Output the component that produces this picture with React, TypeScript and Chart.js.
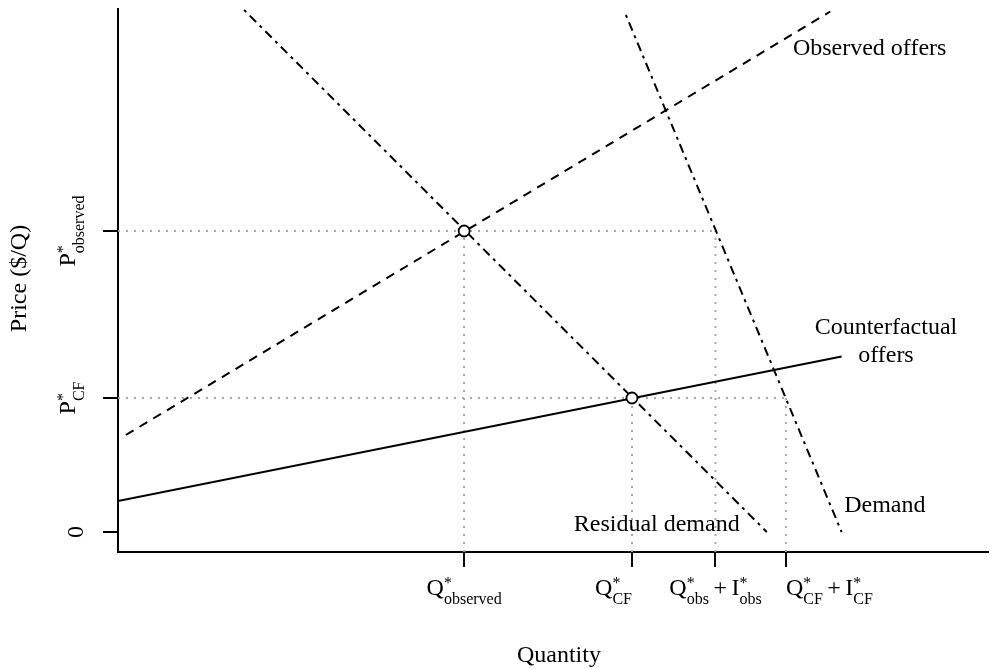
import React, { useEffect, useRef } from 'react';
import { Chart, registerables } from 'chart.js';

Chart.register(...registerables);

// ---------------- data ----------------
const xTickValues = [39.8, 59.1, 68.7, 76.8];
const yTickValues = [0, 26.8, 60.2];

const observedOffersX = [0.9, 81.9];
const observedOffersY = [19.4, 104.1];
const counterfactualOffersX = [0, 83.2];
const counterfactualOffersY = [6.2, 35.1];
const residualDemandX = [14.5, 74.6];
const residualDemandY = [104.4, 0];
const demandX = [58.4, 83.2];
const demandY = [103.4, 0];
const equilibriumX = [39.8, 59.1];
const equilibriumY = [60.2, 26.8];

type Atom = { base?: string; sup?: string; sub?: string; op?: string };

const xTickLabels: Atom[][] = [
  [{ base: 'Q', sup: '*', sub: 'observed' }],
  [{ base: 'Q', sup: '*', sub: 'CF' }],
  [{ base: 'Q', sup: '*', sub: 'obs' }, { op: '+' }, { base: 'I', sup: '*', sub: 'obs' }],
  [{ base: 'Q', sup: '*', sub: 'CF' }, { op: '+' }, { base: 'I', sup: '*', sub: 'CF' }],
];
const yTickLabels: Atom[][] = [
  [{ base: '0' }],
  [{ base: 'P', sup: '*', sub: 'CF' }],
  [{ base: 'P', sup: '*', sub: 'observed' }],
];
const xTitle = 'Quantity';
const yTitle = 'Price ($/Q)';
const observedLabel = 'Observed offers';
const counterfactualLabel = ['Counterfactual', 'offers'];
const residualLabel = 'Residual demand';
const demandLabel = 'Demand';

// ---------------- styling ----------------
const FAMILY = "'Liberation Serif', 'Times New Roman', serif";
const BASE_FONT = `24px ${FAMILY}`;
const SCRIPT_FONT = `16px ${FAMILY}`;
const SUP_RAISE = 7;
const SUB_DROP = 8.5;
const OP_PAD = 4.5;
// horizontal anchoring of each x tick label relative to its tick (0 = left, 0.5 = centre, 1 = right)
const X_LABEL_ANCHOR = [0.5, 1, 0.5, 0];

function atomWidth(ctx: CanvasRenderingContext2D, a: Atom): number {
  if (a.op) {
    ctx.font = BASE_FONT;
    return ctx.measureText(a.op).width + 2 * OP_PAD;
  }
  ctx.font = BASE_FONT;
  const w = ctx.measureText(a.base || '').width;
  ctx.font = SCRIPT_FONT;
  const ws = a.sup ? ctx.measureText(a.sup).width : 0;
  const wb = a.sub ? ctx.measureText(a.sub).width : 0;
  return w + Math.max(ws, wb);
}

function drawMath(ctx: CanvasRenderingContext2D, parts: Atom[], ax: number, by: number, anchor = 0.5) {
  const total = parts.reduce((s, p) => s + atomWidth(ctx, p), 0);
  let x = ax - total * anchor;
  ctx.textAlign = 'left';
  ctx.textBaseline = 'alphabetic';
  ctx.fillStyle = '#000';
  for (const p of parts) {
    if (p.op) {
      ctx.font = BASE_FONT;
      ctx.fillText(p.op, x + OP_PAD, by);
      x += ctx.measureText(p.op).width + 2 * OP_PAD;
      continue;
    }
    ctx.font = BASE_FONT;
    ctx.fillText(p.base || '', x, by);
    x += ctx.measureText(p.base || '').width;
    ctx.font = SCRIPT_FONT;
    let sw = 0;
    if (p.sup) {
      ctx.fillText(p.sup, x, by - SUP_RAISE);
      sw = Math.max(sw, ctx.measureText(p.sup).width);
    }
    if (p.sub) {
      ctx.fillText(p.sub, x, by + SUB_DROP);
      sw = Math.max(sw, ctx.measureText(p.sub).width);
    }
    x += sw;
  }
}

const labelPlugin = {
  id: 'econLabels',
  afterDraw(chart: any) {
    const ctx: CanvasRenderingContext2D = chart.ctx;
    const xs = chart.scales.x;
    const ys = chart.scales.y;
    const area = chart.chartArea;
    ctx.save();

    // x tick labels
    xTickValues.forEach((v, i) => {
      drawMath(ctx, xTickLabels[i], xs.getPixelForValue(v), area.bottom + 43, X_LABEL_ANCHOR[i]);
    });
    // y tick labels (rotated)
    yTickValues.forEach((v, i) => {
      const parts = yTickLabels[i];
      const hasScript = parts.some((p) => p.sub);
      ctx.save();
      ctx.translate(area.left - (hasScript ? 43 : 35), ys.getPixelForValue(v));
      ctx.rotate(-Math.PI / 2);
      drawMath(ctx, parts, 0, 0);
      ctx.restore();
    });

    // axis titles
    ctx.font = BASE_FONT;
    ctx.fillStyle = '#000';
    ctx.textAlign = 'center';
    ctx.textBaseline = 'alphabetic';
    ctx.fillText(xTitle, xs.getPixelForValue(50.7), area.bottom + 110);
    ctx.save();
    ctx.translate(area.left - 92, (area.top + area.bottom) / 2 - 2);
    ctx.rotate(-Math.PI / 2);
    ctx.fillText(yTitle, 0, 0);
    ctx.restore();

    // curve labels
    ctx.textAlign = 'left';
    ctx.fillText(observedLabel, xs.getPixelForValue(77.6), ys.getPixelForValue(95.5));
    ctx.fillText(demandLabel, xs.getPixelForValue(83.5), ys.getPixelForValue(3.94));
    ctx.fillText(residualLabel, xs.getPixelForValue(52.4), ys.getPixelForValue(0.26));
    ctx.textAlign = 'center';
    ctx.fillText(counterfactualLabel[0], xs.getPixelForValue(88.3), ys.getPixelForValue(39.66));
    ctx.fillText(counterfactualLabel[1], xs.getPixelForValue(88.3), ys.getPixelForValue(33.94));

    ctx.restore();
  },
};

const toPoints = (xs: number[], ys: number[]) => xs.map((x, i) => ({ x, y: ys[i] }));

const Y_MIN = -4;
const Y_MAX = 104.6;
const X_MIN = 0;
const X_MAX = 100;

export default function App() {
  const ref = useRef<HTMLCanvasElement>(null);

  useEffect(() => {
    const canvas = ref.current;
    if (!canvas) return;

    const guide = (pts: { x: number; y: number }[]) => ({
      data: pts,
      borderColor: '#a8a8a8',
      borderWidth: 2,
      borderDash: [2, 6],
      borderCapStyle: 'butt' as const,
      pointRadius: 0,
      order: 3,
    });

    const line = (pts: { x: number; y: number }[], dash: number[]) => ({
      data: pts,
      borderColor: '#000',
      borderWidth: 2,
      borderDash: dash,
      borderCapStyle: 'butt' as const,
      pointRadius: 0,
      order: 1,
    });

    const datasets: any[] = [
      {
        data: toPoints(equilibriumX, equilibriumY),
        showLine: false,
        pointRadius: 5.5,
        pointBorderWidth: 1.8,
        pointBorderColor: '#000',
        pointBackgroundColor: '#fff',
        order: 0,
      },
      line(toPoints(observedOffersX, observedOffersY), [9, 7]),
      line(toPoints(counterfactualOffersX, counterfactualOffersY), []),
      line(toPoints(residualDemandX, residualDemandY), [3, 5, 9, 5]),
      line(toPoints(demandX, demandY), [3, 5, 9, 5]),
      // dotted guides derived from tick values
      guide([{ x: X_MIN, y: yTickValues[2] }, { x: xTickValues[2], y: yTickValues[2] }]),
      guide([{ x: xTickValues[0], y: Y_MIN }, { x: xTickValues[0], y: yTickValues[2] }]),
      guide([{ x: xTickValues[2], y: Y_MIN }, { x: xTickValues[2], y: yTickValues[2] }]),
      guide([{ x: X_MIN, y: yTickValues[1] }, { x: xTickValues[3], y: yTickValues[1] }]),
      guide([{ x: xTickValues[1], y: Y_MIN }, { x: xTickValues[1], y: yTickValues[1] }]),
      guide([{ x: xTickValues[3], y: Y_MIN }, { x: xTickValues[3], y: yTickValues[1] }]),
    ];

    const chart = new Chart(canvas, {
      type: 'line',
      data: { datasets },
      options: {
        animation: false,
        responsive: false,
        devicePixelRatio: 1,
        events: [],
        layout: { padding: { left: 103, right: 5, top: 9, bottom: 102 } },
        plugins: {
          legend: { display: false },
          tooltip: { enabled: false },
          title: { display: false },
        },
        elements: { line: { tension: 0 } },
        scales: {
          x: {
            type: 'linear',
            min: X_MIN,
            max: X_MAX,
            afterBuildTicks: (s: any) => {
              s.ticks = xTickValues.map((v) => ({ value: v }));
            },
            ticks: { display: false },
            grid: { drawOnChartArea: false, drawTicks: true, tickLength: 15, color: '#000', lineWidth: 2 },
            border: { display: true, color: '#000', width: 2 },
          },
          y: {
            type: 'linear',
            min: Y_MIN,
            max: Y_MAX,
            afterBuildTicks: (s: any) => {
              s.ticks = yTickValues.map((v) => ({ value: v }));
            },
            ticks: { display: false },
            grid: { drawOnChartArea: false, drawTicks: true, tickLength: 15, color: '#000', lineWidth: 2 },
            border: { display: true, color: '#000', width: 2 },
          },
        },
      } as any,
      plugins: [labelPlugin],
    });

    return () => chart.destroy();
  }, []);

  return (
    <div style={{ position: 'absolute', left: 0, top: 0, width: 995, height: 669, background: '#fff' }}>
      <canvas ref={ref} width={995} height={669} style={{ display: 'block', width: 995, height: 669 }} />
    </div>
  );
}
